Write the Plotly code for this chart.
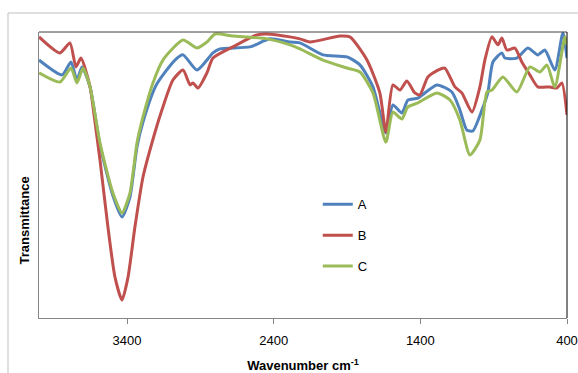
import plotly.graph_objects as go

# Wavenumber (cm-1) and transmittance (arbitrary %)
wn_a = [4000, 3843, 3782, 3741, 3707, 3652, 3584, 3496, 3434, 3380, 3332, 3291, 3200, 3073, 3018, 2923, 2814, 2766,
        2562, 2425, 2289, 2221, 2064, 1900, 1812, 1723, 1635, 1587, 1526, 1485, 1417, 1287, 1185, 1130, 1083,
        1042, 980, 939, 905, 844, 824, 742, 667, 599, 551, 483, 428, 400]
t_a = [90.2, 85.0, 89.5, 83.2, 87.8, 80.8, 60.5, 42.7, 35.3, 42.3, 59.8, 68.5, 81.5, 90.2, 92.0, 86.7, 92.7, 94.1,
       94.8, 97.6, 96.5, 96.2, 92.0, 91.3, 88.5, 80.8, 64.7, 74.5, 71.7, 76.2, 76.9, 81.5, 79.0, 72.7, 65.7,
       65.4, 72.7, 79.0, 89.5, 92.7, 90.9, 90.9, 94.4, 92.0, 93.7, 86.7, 99.7, 90.9]

wn_b = [4000, 3857, 3789, 3748, 3714, 3652, 3620, 3584, 3530, 3482, 3434, 3393, 3346, 3291, 3230, 3162, 3087, 3018,
        2970, 2950, 2916, 2855, 2814, 2678, 2514, 2446, 2289, 2221, 2153, 1948, 1880, 1764, 1676, 1635, 1587,
        1539, 1492, 1437, 1403, 1348, 1280, 1233, 1164, 1117, 1048, 994, 960, 912, 871, 844, 810, 755, 708,
        653, 599, 517, 469, 435, 400]
t_b = [98.3, 92.7, 96.2, 87.8, 90.9, 80.8, 69.2, 55.2, 31.8, 14.3, 6.3, 14.3, 31.8, 49.3, 61.2, 72.7, 83.2, 86.7,
       81.5, 82.2, 80.4, 85.7, 90.9, 94.8, 99.0, 99.3, 98.3, 97.6, 96.5, 98.6, 98.3, 90.2, 78.7, 65.0, 81.5,
       79.7, 82.9, 78.7, 78.0, 84.3, 86.7, 87.4, 80.8, 78.7, 72.0, 80.8, 90.2, 98.3, 95.5, 97.9, 93.7, 94.4, 89.5,
       85.0, 80.8, 80.8, 80.4, 82.2, 71.0]

wn_c = [4000, 3857, 3782, 3741, 3700, 3652, 3584, 3496, 3434, 3380, 3332, 3291, 3223, 3155, 3018, 2923, 2855, 2800,
        2678, 2446, 2289, 2221, 2064, 1900, 1812, 1723, 1635, 1587, 1526, 1485, 1417, 1287, 1198, 1130, 1062,
        994, 946, 912, 837, 742, 653, 585, 537, 483, 414, 400]
t_c = [85.7, 82.5, 87.4, 82.2, 87.4, 80.8, 61.2, 43.7, 36.7, 43.7, 61.2, 70.3, 82.2, 90.2, 97.2, 94.4, 96.5, 99.3,
       98.6, 97.6, 95.5, 94.1, 90.2, 87.4, 86.0, 78.7, 61.5, 72.0, 69.6, 73.8, 75.2, 78.7, 76.2, 69.2, 57.0,
       62.2, 79.0, 79.7, 84.3, 79.0, 87.8, 86.0, 88.5, 80.8, 98.3, 95.5]

series = [("A", wn_a, t_a, "#4F81BD"), ("B", wn_b, t_b, "#C0504D"), ("C", wn_c, t_c, "#9BBB59")]
x_ticks = [3400, 2400, 1400, 400]

fig = go.Figure()
for name, x, y, col in series:
    fig.add_trace(go.Scatter(x=x, y=y, name=name, mode="lines", legendgroup=name,
                             line=dict(color=col, width=3, shape="spline", smoothing=0.6)))

font = "Liberation Sans"
fig.update_layout(
    width=578, height=373,
    margin=dict(l=39, r=11, t=32, b=55, autoexpand=False),
    paper_bgcolor="white", plot_bgcolor="white",
    showlegend=True,
    legend=dict(x=0.528, y=0.45, xanchor="left", yanchor="top", traceorder="grouped",
                tracegroupgap=11, font=dict(family=font, size=13, color="black"),
                bgcolor="rgba(0,0,0,0)"),
    xaxis=dict(range=[4000, 400], tickvals=x_ticks, ticktext=[str(v) for v in x_ticks],
               automargin=False,
               showgrid=False, zeroline=False, showline=True, linecolor="#868686", linewidth=1,
               ticks="outside", ticklen=5, tickcolor="#868686", ticklabelstandoff=5,
               tickfont=dict(family=font, size=13, color="black"),
               title=dict(text="<b>Wavenumber cm<sup>-1</sup></b>", font=dict(family=font, size=13, color="black"),
                          standoff=17)),
    yaxis=dict(range=[0, 100], showticklabels=False, showgrid=False, zeroline=False, automargin=False,
               showline=True, linecolor="#868686", linewidth=1, ticks=""),
    annotations=[dict(text="<b>Transmittance</b>", x=-0.027, y=0.34, xref="paper", yref="paper",
                      textangle=-90, showarrow=False, font=dict(family=font, size=13, color="black"),
                      xanchor="center", yanchor="middle")],
    shapes=[
        dict(type="line", xref="paper", yref="paper", x0=-0.0587, x1=1.1, y0=1.0664, y1=1.0664,
             line=dict(color="#BFBFBF", width=1)),
        dict(type="line", xref="paper", yref="paper", x0=-0.0587, x1=-0.0587, y0=1.0664, y1=-0.3,
             line=dict(color="#BFBFBF", width=1)),
        dict(type="line", xref="paper", yref="paper", x0=0, x1=1, y0=1, y1=1,
             line=dict(color="#404040", width=1)),
        dict(type="line", xref="paper", yref="paper", x0=1, x1=1, y0=0, y1=1,
             line=dict(color="black", width=1)),
    ],
)

fig.write_html("out.html", config={"displayModeBar": False},
               post_script="document.body.style.margin='0';")
